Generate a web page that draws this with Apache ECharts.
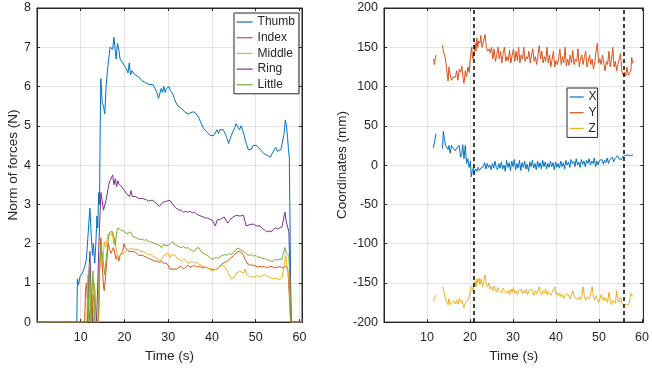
<!DOCTYPE html>
<html>
<head>
<meta charset="utf-8">
<script src="https://cdn.jsdelivr.net/npm/echarts@6/dist/echarts.min.js"></script>
<style>
html,body{margin:0;padding:0;background:#fff;}
#c{width:652px;height:368px;}
</style>
</head>
<body>
<div id="c"></div>
<script>
// ---------- Data (left panel: forces, N) ----------
const forceNames = ['Thumb','Index','Middle','Ring','Little'];
const thumb = [[0,0],[9.1,0],[9.25,1.1],[9.5,0.95],[9.8,1.15],[10.1,1.1],[10.4,1.25],[10.7,1.3],[11.0,1.45],[11.3,1.6],[11.6,2.1],[11.9,2.6],[12.1,2.9],[12.4,2.2],[12.7,1.7],[12.9,2.0],[13.2,1.5],[13.5,2.1],[13.7,2.7],[13.9,2.4],[14.1,3.3],[14.3,3.0],[14.45,5.0],[14.6,6.2],[14.9,5.6],[15.2,5.5],[15.5,5.3],[15.8,6.0],[16.1,6.4],[16.4,6.7],[16.7,7.0],[17.0,7.05],[17.3,6.95],[17.6,7.25],[17.9,6.9],[18.1,6.7],[18.4,7.1],[18.7,6.95],[19.0,6.7],[19.3,6.75],[19.6,6.6],[19.9,6.6],[20.2,6.5],[20.5,6.45],[20.8,6.35],[21.1,6.6],[21.4,6.3],[21.7,6.4],[22.0,6.35],[22.4,6.3],[22.8,6.3],[23.2,6.25],[23.6,6.25],[24.0,6.15],[24.4,6.2],[24.8,6.1],[25.2,6.1],[25.6,6.05],[26.0,6.08],[26.5,6.05],[27.0,5.95],[27.4,5.85],[27.8,5.7],[28.1,5.75],[28.4,5.95],[28.7,5.85],[29.0,6.0],[29.3,5.85],[29.6,5.95],[29.9,5.9],[30.2,6.0],[30.5,5.9],[30.8,5.95],[31.1,5.8],[31.4,5.7],[31.7,5.6],[32.0,5.6],[32.3,5.5],[32.7,5.55],[33.0,5.45],[33.4,5.4],[33.8,5.35],[34.2,5.35],[34.6,5.3],[35.0,5.3],[35.5,5.35],[36.0,5.35],[36.4,5.4],[36.8,5.25],[37.2,5.15],[37.6,5.05],[38.0,4.95],[38.4,4.9],[38.8,4.85],[39.2,4.8],[39.6,4.75],[40.0,4.7],[40.4,4.75],[40.8,4.8],[41.2,4.9],[41.5,4.8],[41.8,4.9],[42.2,4.85],[42.6,4.9],[43.0,4.8],[43.4,4.7],[43.8,4.55],[44.1,4.65],[44.4,4.75],[44.8,4.85],[45.2,4.95],[45.5,5.05],[45.9,5.0],[46.3,4.9],[46.7,5.0],[47.1,4.95],[47.4,4.75],[47.7,4.6],[48.0,4.55],[48.3,4.4],[48.6,4.35],[49.0,4.4],[49.4,4.5],[49.8,4.45],[50.2,4.5],[50.6,4.45],[51.0,4.4],[51.4,4.35],[51.8,4.3],[52.2,4.3],[52.6,4.25],[53.0,4.25],[53.4,4.2],[53.8,4.3],[54.2,4.35],[54.6,4.45],[55.0,4.35],[55.4,4.3],[55.8,4.4],[56.2,4.4],[56.5,4.8],[56.8,5.15],[57.1,4.95],[57.3,4.7],[57.5,4.4],[57.7,4.2],[58.0,1.0],[58.15,0],[60.6,0]];
const index = [[0,0],[10.9,0],[11.1,0.8],[11.3,1.0],[11.5,0.6],[11.7,0.9],[11.9,0.3],[12.1,0],[12.6,0],[12.8,0.7],[13.0,0.5],[13.2,0.85],[13.4,0.3],[13.6,0],[14.1,0],[14.3,1.2],[14.6,2.15],[14.9,1.5],[15.2,0.9],[15.4,0.8],[15.7,1.2],[16.0,1.6],[16.3,2.0],[16.6,1.85],[16.9,1.75],[17.2,1.8],[17.5,1.9],[17.8,1.75],[18.1,1.6],[18.4,1.7],[18.7,1.55],[19.0,1.7],[19.3,1.75],[19.6,1.8],[19.9,2.0],[20.2,1.9],[20.5,1.85],[20.9,1.8],[21.3,1.85],[21.7,1.8],[22.1,1.75],[22.5,1.78],[22.9,1.75],[23.3,1.7],[23.7,1.72],[24.1,1.7],[24.5,1.68],[25.0,1.65],[25.5,1.62],[26.0,1.6],[26.5,1.58],[27.0,1.55],[27.5,1.55],[28.0,1.52],[28.5,1.55],[29.0,1.5],[29.5,1.5],[30.0,1.45],[30.3,1.35],[30.7,1.4],[31.1,1.35],[31.5,1.4],[32.0,1.35],[32.5,1.4],[33.0,1.42],[33.5,1.35],[34.0,1.4],[34.5,1.45],[35.0,1.4],[35.5,1.42],[36.0,1.45],[36.5,1.4],[37.0,1.42],[37.5,1.4],[38.0,1.38],[38.5,1.4],[39.0,1.38],[39.5,1.35],[40.0,1.35],[40.5,1.33],[41.0,1.35],[41.5,1.38],[42.0,1.45],[42.5,1.5],[43.0,1.52],[43.5,1.55],[44.0,1.6],[44.5,1.65],[45.0,1.7],[45.5,1.75],[46.0,1.8],[46.4,1.85],[46.8,1.78],[47.2,1.7],[47.6,1.6],[48.0,1.5],[48.4,1.45],[48.8,1.45],[49.2,1.42],[49.6,1.45],[50.0,1.42],[50.5,1.4],[51.0,1.42],[51.5,1.4],[52.0,1.42],[52.5,1.38],[53.0,1.4],[53.5,1.42],[54.0,1.4],[54.5,1.38],[55.0,1.4],[55.5,1.42],[56.0,1.38],[56.5,1.4],[57.0,1.42],[57.4,1.3],[57.7,1.25],[58.0,0],[60.6,0]];
const middle = [[0,0],[11.4,0],[11.6,1.2],[11.8,0.4],[12.0,1.4],[12.2,0.3],[12.4,0],[12.9,0],[13.1,1.0],[13.3,0.2],[13.5,0],[14.0,0],[14.2,1.3],[14.5,1.8],[14.8,1.4],[15.1,1.6],[15.4,2.05],[15.7,1.9],[16.0,2.1],[16.3,2.25],[16.6,2.3],[16.9,2.2],[17.2,2.3],[17.5,2.0],[17.8,2.15],[18.1,1.9],[18.4,1.65],[18.7,1.6],[19.0,1.7],[19.4,1.72],[19.8,1.75],[20.2,1.8],[20.6,1.82],[21.0,1.85],[21.4,1.88],[21.8,1.9],[22.2,1.85],[22.6,1.88],[23.0,1.85],[23.5,1.82],[24.0,1.8],[24.5,1.78],[25.0,1.75],[25.5,1.72],[26.0,1.72],[26.5,1.68],[27.0,1.65],[27.5,1.62],[28.0,1.55],[28.5,1.6],[29.0,1.7],[29.5,1.72],[30.0,1.75],[30.4,1.65],[30.8,1.72],[31.2,1.68],[31.6,1.7],[32.0,1.62],[32.5,1.6],[33.0,1.55],[33.5,1.6],[34.0,1.58],[34.5,1.5],[35.0,1.52],[35.5,1.55],[36.0,1.5],[36.5,1.52],[37.0,1.48],[37.5,1.45],[38.0,1.42],[38.5,1.4],[39.0,1.38],[39.5,1.35],[40.0,1.3],[40.5,1.32],[41.0,1.35],[41.5,1.4],[42.0,1.42],[42.5,1.45],[43.0,1.4],[43.5,1.3],[44.0,1.2],[44.4,1.1],[44.8,1.05],[45.2,1.15],[45.6,1.25],[46.0,1.2],[46.4,1.3],[46.8,1.28],[47.2,1.25],[47.6,1.35],[48.0,1.2],[48.4,1.22],[48.8,1.15],[49.2,1.2],[49.6,1.15],[50.0,1.1],[50.4,1.18],[50.8,1.2],[51.2,1.15],[51.6,1.2],[52.0,1.22],[52.5,1.18],[53.0,1.15],[53.5,1.12],[54.0,1.1],[54.5,1.12],[55.0,1.1],[55.5,1.08],[56.0,1.12],[56.3,1.15],[56.6,1.5],[56.9,1.7],[57.2,1.4],[57.5,1.25],[57.8,0.8],[58.0,0],[60.6,0]];
const ring = [[0,0],[11.6,0],[11.8,1.0],[12.1,1.8],[12.3,1.0],[12.5,0.3],[12.7,0],[13.6,0],[13.9,1.0],[14.1,1.8],[14.3,2.4],[14.6,3.3],[14.9,3.1],[15.2,2.85],[15.5,2.8],[15.8,3.1],[16.1,3.3],[16.4,3.5],[16.7,3.6],[17.0,3.55],[17.3,3.75],[17.6,3.5],[17.9,3.65],[18.2,3.45],[18.5,3.6],[18.8,3.5],[19.1,3.5],[19.4,3.45],[19.7,3.4],[20.0,3.35],[20.3,3.3],[20.6,3.25],[20.9,3.3],[21.2,3.2],[21.5,3.35],[21.8,3.2],[22.1,3.25],[22.5,3.2],[22.9,3.22],[23.3,3.15],[23.7,3.18],[24.1,3.15],[24.5,3.1],[25.0,3.12],[25.5,3.08],[26.0,3.1],[26.5,3.1],[27.0,3.05],[27.5,3.0],[28.0,2.95],[28.4,2.95],[28.8,3.05],[29.2,3.02],[29.6,3.08],[30.0,3.05],[30.4,3.1],[30.8,3.05],[31.2,2.98],[31.6,2.92],[32.0,2.88],[32.5,2.85],[33.0,2.85],[33.5,2.8],[34.0,2.82],[34.5,2.8],[35.0,2.82],[35.5,2.78],[36.0,2.8],[36.5,2.75],[37.0,2.72],[37.5,2.7],[38.0,2.68],[38.5,2.65],[39.0,2.65],[39.5,2.62],[40.0,2.6],[40.4,2.55],[40.8,2.45],[41.2,2.6],[41.6,2.58],[42.0,2.62],[42.4,2.6],[42.8,2.68],[43.2,2.6],[43.6,2.52],[44.0,2.58],[44.4,2.62],[44.8,2.68],[45.2,2.65],[45.6,2.72],[46.0,2.75],[46.4,2.7],[46.8,2.75],[47.2,2.72],[47.5,2.6],[47.8,2.45],[48.2,2.42],[48.6,2.48],[49.0,2.45],[49.4,2.5],[49.8,2.48],[50.2,2.45],[50.6,2.42],[51.0,2.45],[51.5,2.38],[52.0,2.35],[52.5,2.3],[53.0,2.32],[53.5,2.3],[54.0,2.35],[54.5,2.4],[55.0,2.38],[55.5,2.4],[56.0,2.42],[56.4,2.4],[56.7,2.8],[57.0,2.55],[57.3,2.6],[57.6,2.3],[57.9,1.0],[58.1,0],[60.6,0]];
const little = [[0,0],[11.7,0],[11.9,1.2],[12.0,1.5],[12.2,0.5],[12.3,0],[12.6,0],[12.8,1.3],[13.0,0.8],[13.2,0],[13.9,0],[14.1,0.5],[14.3,1.4],[14.6,1.95],[14.9,1.75],[15.2,1.5],[15.5,1.2],[15.8,1.6],[16.1,1.9],[16.4,2.2],[16.7,2.3],[17.0,2.25],[17.3,2.3],[17.6,2.15],[17.9,1.95],[18.2,2.3],[18.5,2.4],[18.8,2.35],[19.1,2.35],[19.4,2.3],[19.8,2.32],[20.2,2.28],[20.6,2.25],[21.0,2.2],[21.4,2.3],[21.8,2.2],[22.2,2.18],[22.6,2.15],[23.0,2.15],[23.5,2.1],[24.0,2.12],[24.5,2.08],[25.0,2.1],[25.5,2.05],[26.0,2.05],[26.5,2.02],[27.0,2.0],[27.5,1.98],[28.0,1.95],[28.5,1.9],[29.0,1.98],[29.5,1.95],[30.0,1.95],[30.5,2.0],[31.0,2.05],[31.5,1.98],[32.0,1.95],[32.5,1.92],[33.0,1.9],[33.5,1.92],[34.0,1.88],[34.5,1.9],[35.0,1.85],[35.5,1.82],[36.0,1.8],[36.5,1.88],[37.0,1.9],[37.5,1.8],[38.0,1.75],[38.5,1.72],[39.0,1.7],[39.5,1.65],[40.0,1.6],[40.5,1.62],[41.0,1.65],[41.5,1.62],[42.0,1.68],[42.5,1.7],[43.0,1.72],[43.5,1.7],[44.0,1.75],[44.5,1.72],[45.0,1.78],[45.5,1.85],[46.0,1.88],[46.5,1.85],[47.0,1.82],[47.5,1.78],[48.0,1.72],[48.5,1.7],[49.0,1.72],[49.5,1.68],[50.0,1.7],[50.5,1.65],[51.0,1.66],[51.5,1.62],[52.0,1.62],[52.5,1.6],[53.0,1.58],[53.5,1.55],[54.0,1.55],[54.5,1.6],[55.0,1.58],[55.5,1.6],[56.0,1.6],[56.4,1.62],[56.7,1.9],[57.0,1.75],[57.3,1.8],[57.6,1.7],[57.9,0.8],[58.1,0],[60.6,0]];

// ---------- Data (right panel: coordinates, mm) ----------
const coordNames = ['X','Y','Z'];
const coordX = [[11.5,22],[11.7,28],[11.9,35],[12.1,40],[12.5,null],[13.6,21],[13.8,43],[14.0,35],[14.3,25],[14.6,27],[14.9,20],[15.1,25],[15.4,15],[15.7,25],[16.0,22],[16.3,24],[16.6,18],[16.9,22],[17.2,20],[17.5,25],[17.8,10],[18.1,15],[18.3,26],[18.6,8],[18.9,25],[19.2,2],[19.5,8],[19.8,-3],[20.1,5],[20.3,-15],[20.5,-8],[20.8,-3],[21.0,-10],[21.3,-5],[21.6,-8],[21.9,-3],[22.2,-7],[22.5,-4],[22.8,-6],[23.1,-2],[23.4,3],[23.7,-5],[24.0,2],[24.3,-3],[24.6,0],[24.9,-6],[25.2,2],[25.5,-4],[25.8,5],[26.1,-3],[26.4,-6],[26.7,2],[27.0,-4],[27.3,4],[27.6,-5],[27.9,0],[28.2,-8],[28.5,6],[28.8,-3],[29.1,3],[29.4,-7],[29.7,5],[30.0,-2],[30.3,7],[30.6,-6],[30.9,2],[31.2,-4],[31.5,6],[31.8,-7],[32.1,3],[32.4,-3],[32.7,5],[33.0,-5],[33.3,1],[33.6,-8],[33.9,4],[34.2,-2],[34.5,6],[34.8,-4],[35.1,2],[35.4,-6],[35.7,5],[36.0,-3],[36.3,3],[36.6,-5],[36.9,6],[37.2,-2],[37.5,4],[37.8,-5],[38.1,2],[38.4,-3],[38.7,5],[39.0,-2],[39.3,3],[39.6,-6],[39.9,4],[40.2,-3],[40.5,2],[40.8,-4],[41.1,5],[41.4,-2],[41.7,3],[42.0,-5],[42.3,6],[42.6,0],[42.9,4],[43.2,-3],[43.5,7],[43.8,2],[44.1,5],[44.4,-2],[44.7,8],[45.0,0],[45.3,4],[45.6,-3],[45.9,7],[46.2,1],[46.5,5],[46.8,-2],[47.1,6],[47.4,2],[47.7,8],[48.0,0],[48.3,5],[48.6,2],[48.9,9],[49.2,-2],[49.5,5],[49.8,0],[50.1,6],[50.4,4],[50.7,7],[51.0,1],[51.3,6],[51.6,3],[51.9,9],[52.2,2],[52.5,7],[52.8,5],[53.1,10],[53.4,4],[53.7,8],[54.0,6],[54.3,12],[54.6,8],[54.9,10],[55.2,7],[55.5,11],[55.8,9],[56.1,12],[56.4,10],[56.7,13],[57.0,11],[57.3,12],[57.6,14],[57.9,13]];
const coordY = [[11.5,135],[11.7,128],[11.9,135],[12.1,140],[12.5,null],[13.6,153],[13.8,145],[14.0,147],[14.3,135],[14.6,120],[14.9,107],[15.1,125],[15.4,115],[15.7,108],[16.0,112],[16.3,110],[16.6,112],[16.9,120],[17.2,108],[17.5,122],[17.8,118],[18.1,126],[18.4,110],[18.6,104],[18.9,120],[19.2,112],[19.5,125],[19.8,118],[20.1,138],[20.4,150],[20.6,135],[20.9,140],[21.2,155],[21.4,145],[21.6,162],[21.8,150],[22.0,158],[22.3,155],[22.5,165],[22.8,150],[23.1,148],[23.5,166],[23.8,150],[24.1,145],[24.4,148],[24.7,143],[25.0,150],[25.3,135],[25.6,148],[25.9,132],[26.2,140],[26.5,150],[26.8,135],[27.1,145],[27.4,130],[27.7,142],[28.0,150],[28.3,132],[28.6,138],[28.9,133],[29.2,146],[29.5,130],[29.8,140],[30.1,148],[30.4,132],[30.7,145],[31.0,133],[31.3,150],[31.6,130],[31.9,140],[32.2,135],[32.5,150],[32.8,132],[33.1,138],[33.4,135],[33.7,145],[34.0,130],[34.3,140],[34.6,148],[34.9,132],[35.2,138],[35.5,128],[35.8,140],[36.1,152],[36.4,135],[36.7,145],[37.0,130],[37.3,138],[37.6,132],[37.9,150],[38.2,130],[38.5,140],[38.8,125],[39.1,135],[39.4,145],[39.7,125],[40.0,133],[40.3,128],[40.6,135],[40.9,148],[41.2,128],[41.5,138],[41.8,130],[42.1,150],[42.4,126],[42.7,135],[43.0,127],[43.3,140],[43.6,130],[43.9,146],[44.2,128],[44.5,135],[44.8,132],[45.1,148],[45.4,125],[45.7,135],[46.0,140],[46.3,128],[46.6,138],[46.9,145],[47.2,125],[47.5,132],[47.8,140],[48.1,128],[48.4,135],[48.7,122],[49.0,130],[49.3,145],[49.6,155],[49.9,130],[50.2,135],[50.5,128],[50.8,140],[51.1,130],[51.4,120],[51.7,132],[52.0,128],[52.3,145],[52.6,125],[52.9,135],[53.2,150],[53.5,125],[53.8,132],[54.1,120],[54.4,128],[54.7,135],[55.0,142],[55.3,120],[55.6,115],[55.9,118],[56.2,113],[56.5,125],[56.8,114],[57.1,113],[57.4,120],[57.6,137],[57.8,130],[58.0,131]];
const coordZ = [[11.5,-173],[11.7,-170],[11.9,-172],[12.1,-165],[12.5,null],[13.6,-155],[13.8,-158],[14.0,-160],[14.3,-170],[14.6,-175],[14.9,-178],[15.1,-170],[15.4,-178],[15.7,-175],[16.0,-176],[16.3,-173],[16.6,-177],[16.9,-172],[17.2,-177],[17.5,-170],[17.8,-175],[18.1,-172],[18.4,-178],[18.6,-182],[18.9,-176],[19.2,-178],[19.5,-172],[19.8,-168],[20.1,-160],[20.4,-155],[20.7,-160],[20.9,-152],[21.2,-148],[21.4,-155],[21.6,-145],[21.8,-150],[22.1,-144],[22.3,-152],[22.6,-145],[22.9,-155],[23.2,-148],[23.5,-140],[23.8,-152],[24.1,-155],[24.4,-150],[24.7,-158],[25.0,-155],[25.3,-160],[25.6,-154],[25.9,-158],[26.2,-162],[26.5,-156],[26.8,-160],[27.1,-158],[27.4,-163],[27.7,-157],[28.0,-160],[28.3,-158],[28.6,-163],[28.9,-160],[29.2,-165],[29.5,-158],[29.8,-162],[30.1,-156],[30.4,-163],[30.7,-160],[31.0,-165],[31.3,-160],[31.6,-162],[31.9,-158],[32.2,-164],[32.5,-160],[32.8,-163],[33.1,-158],[33.4,-165],[33.7,-160],[34.0,-162],[34.3,-158],[34.6,-163],[34.9,-166],[35.2,-160],[35.5,-164],[35.8,-160],[36.1,-155],[36.4,-162],[36.7,-165],[37.0,-160],[37.3,-163],[37.6,-158],[37.9,-165],[38.2,-161],[38.5,-163],[38.8,-166],[39.1,-162],[39.4,-160],[39.7,-155],[40.0,-165],[40.3,-162],[40.6,-167],[40.9,-163],[41.2,-168],[41.5,-165],[41.8,-170],[42.1,-166],[42.4,-168],[42.7,-164],[43.0,-167],[43.3,-170],[43.6,-165],[43.9,-160],[44.2,-167],[44.5,-170],[44.8,-168],[45.1,-171],[45.4,-168],[45.7,-172],[46.0,-167],[46.3,-155],[46.6,-168],[46.9,-172],[47.2,-168],[47.5,-166],[47.8,-170],[48.1,-168],[48.4,-155],[48.7,-168],[49.0,-172],[49.3,-166],[49.6,-170],[49.9,-175],[50.2,-170],[50.5,-165],[50.8,-172],[51.1,-168],[51.4,-173],[51.7,-170],[52.0,-175],[52.3,-162],[52.6,-172],[52.9,-178],[53.2,-172],[53.5,-170],[53.8,-176],[54.1,-160],[54.4,-172],[54.7,-175],[55.0,-168],[55.3,-175],[55.6,-178],[55.9,-176],[56.2,-178],[56.5,-177],[56.8,-178],[57.1,-175],[57.3,-163],[57.6,-167],[57.9,-166]];
const eventTimes = [20.9, 55.8];

// axis ranges / ticks
const xRange = [[0, 60.6], [0, 60.3]];
const yRange = [[0, 8, 1], [-200, 200, 50]];
const yNames = ['Norm of forces (N)', 'Coordinates (mm)'];
const xName = 'Time (s)';

const colors = ['#0072BD','#D95319','#EDB120','#7E2F8E','#77AC30'];
const AX = '#262626';
const GRIDC = '#e3e3e3';
const FONT = '"Liberation Sans", Arial, Helvetica, sans-serif';

const chart = echarts.init(document.getElementById('c'), null, {renderer: 'canvas'});

const grids = [
  {left: 37, top: 8, width: 265, height: 315, show: true, borderColor: AX, borderWidth: 1, backgroundColor: 'transparent'},
  {left: 384, top: 8, width: 264, height: 315, show: true, borderColor: AX, borderWidth: 1, backgroundColor: 'transparent'}
];

function xAx(g, pos) {
  const main = pos === 'bottom';
  return {
    type: 'value', gridIndex: g, position: pos,
    min: xRange[g][0], max: xRange[g][1], interval: 10,
    axisLine: {show: true, onZero: false, lineStyle: {color: AX, width: 1}},
    axisTick: {show: true, inside: true, length: 3, lineStyle: {color: AX}},
    axisLabel: main ? {show: true, color: AX, fontSize: 12.5, fontFamily: FONT, margin: 9, showMaxLabel: false,
      formatter: v => (v === 0 ? '' : String(v))} : {show: false},
    splitLine: {show: main, lineStyle: {color: GRIDC, width: 1}},
    name: main ? xName : '', nameLocation: 'middle', nameGap: 24,
    nameTextStyle: {color: AX, fontSize: 13.5, fontFamily: FONT}
  };
}
function yAx(g, pos) {
  const main = pos === 'left';
  return {
    type: 'value', gridIndex: g, position: pos,
    min: yRange[g][0], max: yRange[g][1], interval: yRange[g][2],
    axisLine: {show: true, onZero: false, lineStyle: {color: AX, width: 1}},
    axisTick: {show: true, inside: true, length: 3, lineStyle: {color: AX}},
    axisLabel: main ? {show: true, color: AX, fontSize: 12.5, fontFamily: FONT, margin: 6} : {show: false},
    splitLine: {show: main, lineStyle: {color: GRIDC, width: 1}},
    name: main ? yNames[g] : '', nameLocation: 'middle', nameGap: g === 0 ? 15 : 35,
    nameTextStyle: {color: AX, fontSize: 13.5, fontFamily: FONT}
  };
}

const forceData = [thumb, index, middle, ring, little];
const coordData = [coordX, coordY, coordZ];

const series = [];
forceNames.forEach((n, i) => series.push({
  name: n, type: 'line', xAxisIndex: 0, yAxisIndex: 0, data: forceData[i],
  symbol: 'none', showSymbol: false, lineStyle: {width: 1, color: colors[i]}, itemStyle: {color: colors[i]},
  animation: false, z: 3
}));
coordNames.forEach((n, i) => series.push({
  name: n, type: 'line', xAxisIndex: 1, yAxisIndex: 1, data: coordData[i],
  symbol: 'none', showSymbol: false, connectNulls: false,
  lineStyle: {width: 1, color: colors[i]}, itemStyle: {color: colors[i]},
  animation: false, z: 3,
  markLine: i === 0 ? {
    silent: true, symbol: ['none', 'none'], label: {show: false}, animation: false,
    lineStyle: {color: '#000', type: [4, 3], width: 1.5},
    data: eventTimes.map(t => ({xAxis: t}))
  } : undefined
}));

function legendFor(names, left, top, iw, pad) {
  return {
    show: true, orient: 'vertical', left: left, top: top,
    data: names, backgroundColor: '#fff', borderColor: AX, borderWidth: 1,
    itemWidth: iw, itemHeight: 10, itemGap: 3.7, padding: pad,
    itemStyle: {opacity: 0},
    lineStyle: {width: 1.2},
    textStyle: {color: AX, fontSize: 12, fontFamily: FONT},
    selectedMode: false, z: 10
  };
}

chart.setOption({
  animation: false,
  backgroundColor: '#fff',
  textStyle: {fontFamily: FONT},
  grid: grids,
  xAxis: [xAx(0, 'bottom'), xAx(1, 'bottom'), xAx(0, 'top'), xAx(1, 'top')],
  yAxis: [yAx(0, 'left'), yAx(1, 'left'), yAx(0, 'right'), yAx(1, 'right')],
  legend: [
    legendFor(forceNames, 234, 13, 16, [3, 4, 3, 2]),
    legendFor(coordNames, 567, 88, 14, [3, 1, 3, 2])
  ],
  series: series
});
</script>
</body>
</html>
